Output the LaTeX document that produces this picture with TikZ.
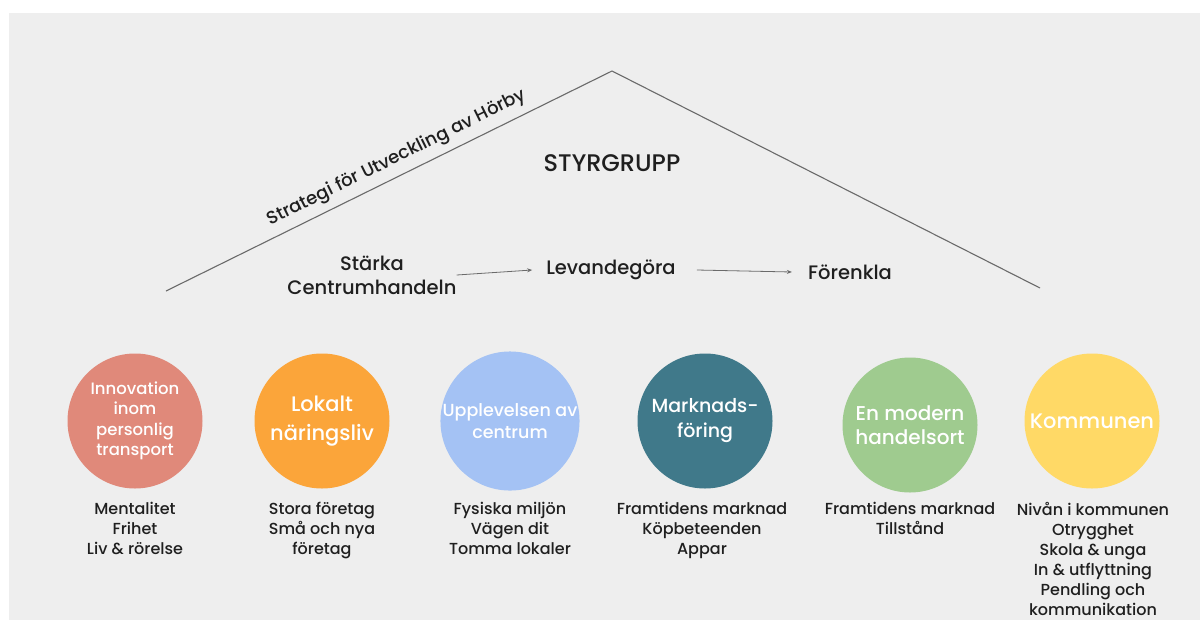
\documentclass[tikz,border=0pt]{standalone}
\usepackage{fontspec}
\setmainfont{Poppins}[UprightFont={* Medium}]
\usetikzlibrary{arrows.meta}
\definecolor{bg}{HTML}{EEEEEE}
\definecolor{ink}{HTML}{1F1F1F}
\definecolor{roofc}{HTML}{6A6A6A}
\definecolor{cred}{HTML}{E0897A}
\definecolor{corange}{HTML}{FBA53A}
\definecolor{cblue}{HTML}{A4C2F4}
\definecolor{cteal}{HTML}{40798A}
\definecolor{cgreen}{HTML}{9FCB8F}
\definecolor{cyellow}{HTML}{FFD966}
\begin{document}
\begin{tikzpicture}[x=1pt,y=-1pt,
  roof/.style={draw=roofc, line width=1.1pt},
  arr/.style={draw=roofc, line width=0.8pt, -{Stealth[length=5pt,width=4pt]}},
  topic/.style={circle, minimum size=135pt, inner sep=0pt, text=white, align=center},
  step label/.style={text=ink, align=center, inner sep=0pt, font=\fontsize{19.5}{24}\selectfont},
  listbox/.style={text=ink, align=center, inner sep=0pt, anchor=north, font=\fontsize{16}{20}\selectfont}
]
\useasboundingbox (0,0) rectangle (1200,622);
\fill[white] (0,0) rectangle (1200,622);
\fill[bg] (9,13) rectangle (1200,620);

% roof
\coordinate (L) at (166,291);
\coordinate (A) at (612,71);
\coordinate (R) at (1040,288);
\draw[roof] (L) -- (A) -- (R);

\node[rotate=26.3, text=ink, inner sep=0pt, font=\fontsize{18}{20}\selectfont] (strat) at (397,158) {Strategi för Utveckling av Hörby};
\node[text=ink, inner sep=0pt, font=\fontsize{24}{26}\selectfont] (styr) at (612,163) {STYRGRUPP};

\node[step label] (stark) at (372,275) {Stärka\\Centrumhandeln};
\node[step label] (lev) at (611,270) {Levandegöra};
\node[step label] (fore) at (850,272) {Förenkla};
\draw[arr] (stark.east) -- ([xshift=-14pt]lev.west);
\draw[arr] ([xshift=21pt]lev.east) -- ([xshift=-16pt]fore.west);

% circles
\node[topic, fill=cred, font=\fontsize{16.5}{20.5}\selectfont] (c1) at (135,421) {Innovation\\inom\\personlig\\transport};
\node[topic, fill=corange, font=\fontsize{21}{29}\selectfont] (c2) at (322,421) {Lokalt\\näringsliv};
\node[topic, fill=cblue, font=\fontsize{17.5}{22}\selectfont] (c3) at (510,421) {Upplevelsen av\\centrum};
\node[topic, fill=cteal, font=\fontsize{19}{25}\selectfont] (c4) at (705,421) {Marknads-\\föring};
\node[topic, fill=cgreen, font=\fontsize{20}{24}\selectfont] (c5) at (910,425) {En modern\\handelsort};
\node[topic, fill=cyellow, font=\fontsize{21}{24}\selectfont] (c6) at (1092,421) {Kommunen};

% lists
\node[listbox] (l1) at (135,502) {Mentalitet\\Frihet\\Liv \& rörelse};
\node[listbox] (l2) at (322,502) {Stora företag\\Små och nya\\företag};
\node[listbox] (l3) at (510,502) {Fysiska miljön\\Vägen dit\\Tomma lokaler};
\node[listbox] (l4) at (702,502) {Framtidens marknad\\Köpbeteenden\\Appar};
\node[listbox] (l5) at (910,502) {Framtidens marknad\\Tillstånd};
\node[listbox] (l6) at (1093,502) {Nivån i kommunen\\Otrygghet\\Skola \& unga\\In \& utflyttning\\Pendling och\\kommunikation};
\end{tikzpicture}
\end{document}
